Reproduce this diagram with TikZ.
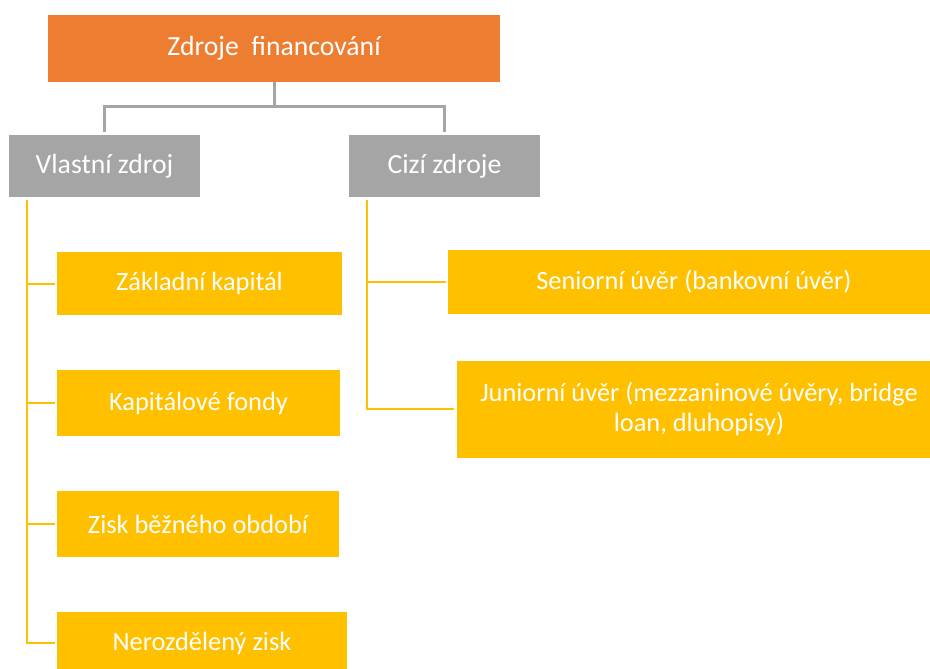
\documentclass[tikz,border=0pt]{standalone}
\usepackage{fontspec}
\setmainfont{Carlito}
\definecolor{orangeA}{HTML}{ED7D31}
\definecolor{grayA}{HTML}{A5A5A5}
\definecolor{goldA}{HTML}{FFC000}
\begin{document}
\begin{tikzpicture}[x=1pt,y=-1pt,
  box/.style={rectangle,inner sep=0pt,text=white,align=center},
  topbox/.style={box,fill=orangeA,font=\fontsize{27.7}{33}\selectfont},
  midbox/.style={box,fill=grayA,font=\fontsize{27.7}{33}\selectfont},
  leafbox/.style={box,fill=goldA,font=\fontsize{26.4}{30}\selectfont},
  grayline/.style={draw=grayA,line width=3pt},
  goldline/.style={draw=goldA,line width=2pt}]
\useasboundingbox (0,0) rectangle (930,669);
\clip (0,0) rectangle (930,669);
% top
\node[topbox,minimum width=452pt,minimum height=67pt] (top) at (274,48.5) {Zdroje\ \ financování};
% second level
\node[midbox,minimum width=191pt,minimum height=62pt] (vl) at (104.5,166) {Vlastní zdroj};
\node[midbox,minimum width=191pt,minimum height=62pt] (ci) at (444.5,166) {Cizí zdroje};
% left leaves
\node[leafbox,minimum width=285pt,minimum height=63pt] (zk) at (199.5,283.5) {Základní kapitál};
\node[leafbox,minimum width=283pt,minimum height=66pt] (kf) at (198.5,403) {Kapitálové fondy};
\node[leafbox,minimum width=282pt,minimum height=66pt] (zb) at (198,524) {Zisk běžného období};
\node[leafbox,minimum width=290pt,minimum height=62pt] (nz) at (202,643) {Nerozdělený zisk};
% right leaves
\node[leafbox,minimum width=491pt,minimum height=64pt] (su) at (693.8,282) {Seniorní úvěr (bankovní úvěr)};
\node[leafbox,minimum width=484pt,minimum height=97pt] (ju) at (699,409.3) {Juniorní úvěr (mezzaninové úvěry, bridge\\loan, dluhopisy)};
% gray connectors
\coordinate (mid) at (274,107);
\draw[grayline,shorten >=3pt] (top.south) -- (mid) -| (vl.north);
\draw[grayline,shorten >=3pt] (mid) -| (ci.north);
% gold connectors left
\coordinate (ls) at (27,200);
\draw[goldline,shorten >=2pt] (ls) |- (zk.west);
\draw[goldline,shorten >=2pt] (ls) |- (kf.west);
\draw[goldline,shorten >=2pt] (ls) |- (zb.west);
\draw[goldline,shorten >=2pt] (ls) |- (nz.west);
% gold connectors right
\coordinate (rs) at (367,200);
\draw[goldline,shorten >=2.5pt] (rs) |- (su.west);
\draw[goldline,shorten >=2.5pt] (rs) |- (ju.west);
\end{tikzpicture}
\end{document}
